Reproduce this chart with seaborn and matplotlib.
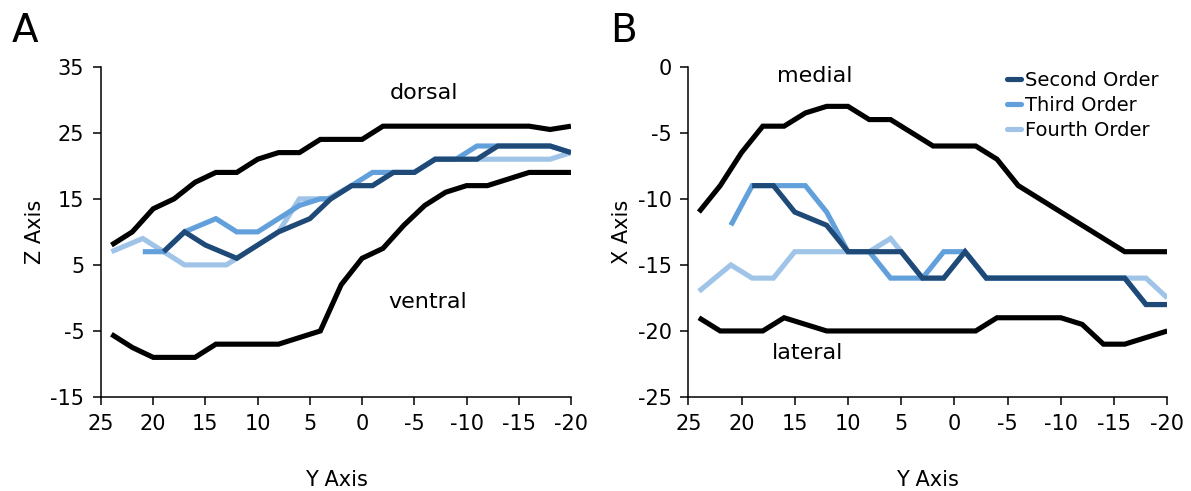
import matplotlib
matplotlib.use("Agg")
import matplotlib.pyplot as plt
import seaborn as sns
import pandas as pd
from matplotlib.lines import Line2D

sns.set_theme(style="white")
plt.rcParams['font.family'] = ['DejaVu Sans']
plt.rcParams['axes.unicode_minus'] = False
plt.rcParams['text.color'] = 'black'
plt.rcParams['axes.labelcolor'] = 'black'

# ---------------- data ----------------
y_black = [24, 22, 20, 18, 16, 14, 12, 10, 8, 6, 4, 2, 0, -2, -4, -6, -8, -10, -12, -14, -16, -18, -20]

# Panel A (Z axis)
dorsal = [8, 10, 13.5, 15, 17.5, 19, 19, 21, 22, 22, 24, 24, 24, 26, 26, 26, 26, 26, 26, 26, 26, 25.5, 26]
ventral = [-5.5, -7.5, -9, -9, -9, -7, -7, -7, -7, -6, -5, 2, 6, 7.5, 11, 14, 16, 17, 17, 18, 19, 19, 19]

a_second_y = [19, 17, 15, 12, 8, 5, 3, 1, -1, -3, -5, -7, -11, -13, -18, -20]
a_second_z = [7, 10, 8, 6, 10, 12, 15, 17, 17, 19, 19, 21, 21, 23, 23, 22]
a_third_y = [21, 19, 17, 14, 12, 10, 6, 4, 3, 1, -1, -3, -5, -7, -9, -11, -18, -20]
a_third_z = [7, 7, 10, 12, 10, 10, 14, 15, 15, 17, 19, 19, 19, 21, 21, 23, 23, 22]
a_fourth_y = [24, 21, 17, 13, 8, 6, 3.3, 1, -1, -3, -5, -7, -11, -18, -20]
a_fourth_z = [7, 9, 5, 5, 10, 15, 15, 17, 17, 19, 19, 21, 21, 21, 22]

# Panel B (X axis)
medial = [-11, -9, -6.5, -4.5, -4.5, -3.5, -3, -3, -4, -4, -5, -6, -6, -6, -7, -9, -10, -11, -12, -13, -14, -14, -14]
lateral = [-19, -20, -20, -20, -19, -19.5, -20, -20, -20, -20, -20, -20, -20, -20, -19, -19, -19, -19, -19.5, -21, -21, -20.5, -20]

b_second_y = [19, 17, 15, 12, 10, 5, 3, 1, -1, -3, -16, -18, -20]
b_second_x = [-9, -9, -11, -12, -14, -14, -16, -16, -14, -16, -16, -18, -18]
b_third_y = [21, 19, 14, 12, 10, 8, 6, 3, 1, -1, -3, -16, -18, -20]
b_third_x = [-12, -9, -9, -11, -14, -14, -16, -16, -14, -14, -16, -16, -18, -18]
b_fourth_y = [24, 21, 19, 17, 15, 8, 6, 5, 3, 1, -1, -3, -18, -20]
b_fourth_x = [-17, -15, -16, -16, -14, -14, -13, -14, -16, -16, -14, -16, -16, -17.5]

series_names = ["Second Order", "Third Order", "Fourth Order"]
c_dark = "#1F4A78"
c_mid = "#62A0DC"
c_light = "#9FC4E8"

x_ticks = [25, 20, 15, 10, 5, 0, -5, -10, -15, -20]

# ---------------- figure ----------------
fig = plt.figure(figsize=(11.91, 4.91), dpi=100)
axA = fig.add_axes([0.0848, 0.1914, 0.3946, 0.6727])
axB = fig.add_axes([0.5779, 0.1914, 0.4022, 0.6727])

LW = 3.7
FS = 15


def line(ax, x, y, color, label=None):
    df = pd.DataFrame({"x": x, "y": y})
    sns.lineplot(data=df, x="x", y="y", ax=ax, color=color, lw=LW, sort=False,
                 estimator=None, label=label, legend=False,
                 solid_joinstyle="miter", solid_capstyle="butt")


# Panel A
line(axA, y_black, dorsal, "black")
line(axA, y_black, ventral, "black")
line(axA, a_fourth_y, a_fourth_z, c_light)
line(axA, a_third_y, a_third_z, c_mid)
line(axA, a_second_y, a_second_z, c_dark)

# Panel B
line(axB, y_black, medial, "black")
line(axB, y_black, lateral, "black")
line(axB, b_fourth_y, b_fourth_x, c_light)
line(axB, b_third_y, b_third_x, c_mid)
line(axB, b_second_y, b_second_x, c_dark)

for ax in (axA, axB):
    ax.set_xlim(25, -20)
    ax.set_xticks(x_ticks)
    ax.set_xticklabels([str(t) for t in x_ticks])
    ax.set_xlabel("Y Axis", fontsize=FS, labelpad=26, color="black")
    for s in ("top", "right"):
        ax.spines[s].set_visible(False)
    for s in ("left", "bottom"):
        ax.spines[s].set_color("black")
        ax.spines[s].set_linewidth(1.1)
    ax.tick_params(axis="both", direction="out", length=6, width=1.1,
                   color="black", labelsize=FS, labelcolor="black", pad=6,
                   bottom=True, left=True)
    ax.grid(False)
    ax.set_facecolor("white")

axA.set_ylim(-15, 35)
axA.set_yticks([35, 25, 15, 5, -5, -15])
axA.set_ylabel("Z Axis", fontsize=FS, labelpad=4, color="black")

axB.set_ylim(-25, 0)
axB.set_yticks([0, -5, -10, -15, -20, -25])
axB.set_ylabel("X Axis", fontsize=FS, labelpad=4, color="black")

# annotations
axA.text(-5.9, 31, "dorsal", fontsize=FS + 1, ha="center", va="center", color="black")
axA.text(-6.3, -0.6, "ventral", fontsize=FS + 1, ha="center", va="center", color="black")
axB.text(13.1, -0.7, "medial", fontsize=FS + 1, ha="center", va="center", color="black")
axB.text(13.8, -21.7, "lateral", fontsize=FS + 1, ha="center", va="center", color="black")

# legend
handles = [Line2D([0], [0], color=c, lw=LW) for c in (c_dark, c_mid, c_light)]
leg = axB.legend(handles, series_names, loc="upper right", bbox_to_anchor=(0.981, 0.987),
                 frameon=False, fontsize=14, handlelength=0.7, handletextpad=0.2,
                 labelspacing=0.3, borderaxespad=0.0, borderpad=0.0)
for t in leg.get_texts():
    t.set_color("black")

# panel labels
fig.text(0.010, 0.975, "A", fontsize=28, ha="left", va="top", color="black")
fig.text(0.512, 0.975, "B", fontsize=28, ha="left", va="top", color="black")

fig.savefig("out.png", dpi=100, facecolor="white")
